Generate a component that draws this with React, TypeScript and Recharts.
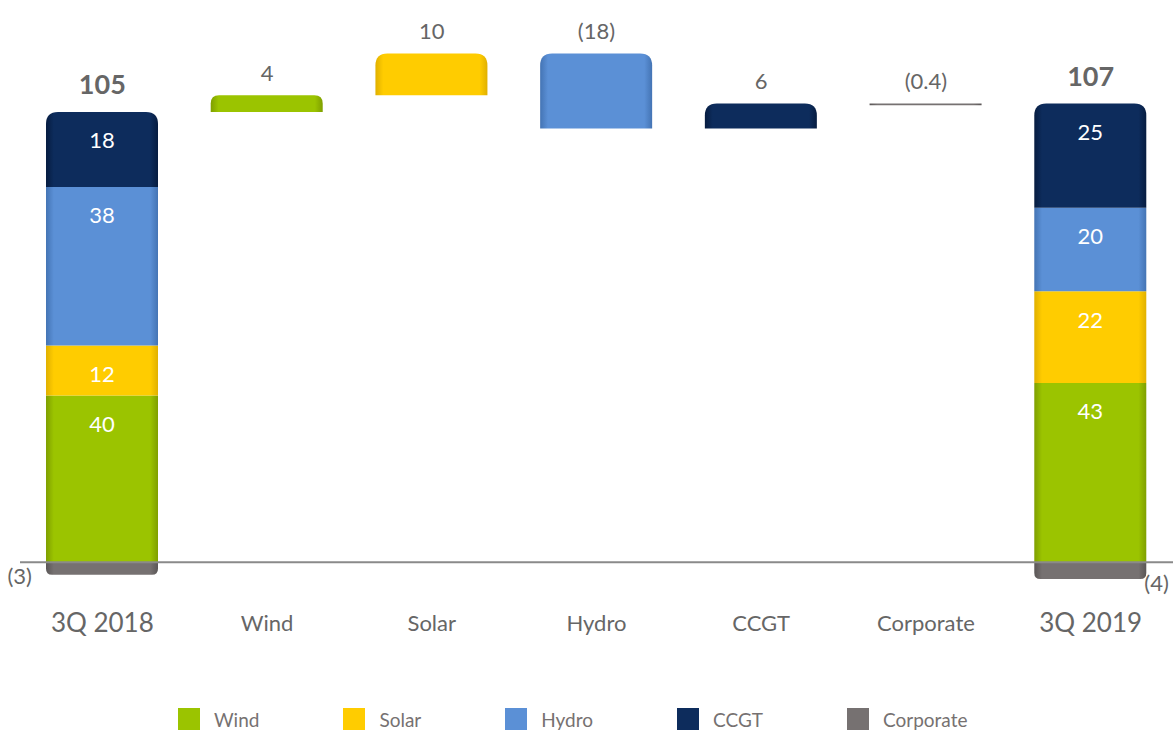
import { ComposedChart, Bar, Line, XAxis, YAxis, ReferenceLine, LabelList, Legend } from 'recharts'

const categories = ['3Q 2018', 'Wind', 'Solar', 'Hydro', 'CCGT', 'Corporate', '3Q 2019']
const seriesKeys = ['wind', 'solar', 'hydro', 'ccgt', 'corporate']
const seriesNames = ['Wind', 'Solar', 'Hydro', 'CCGT', 'Corporate']
const seriesColors = ['#9bc400', '#ffcc00', '#5b90d6', '#0d2c5c', '#767171']
const edgeColors = ['#7f9f00', '#e0b000', '#4474b4', '#061c40', '#5a5656']
const q3_2018 = [40, 12, 38, 18, -3]
const q3_2019 = [43, 22, 20, 25, -4]
const changes = [4, 10, -18, 6, -0.4]
const topLabels = ['105', '4', '10', '(18)', '6', '(0.4)', '107']
const bottomLabels = ['(3)', '(4)']

const FONT = 'Lato, "Open Sans", sans-serif'
const GREY = '#666666'

const positiveSum = (vals: number[]) => vals.filter((v) => v > 0).reduce((a, b) => a + b, 0)

let level = positiveSum(q3_2018)
const data = categories.map((name, i) => {
  const row: Record<string, any> = { name, base: 0, end: false }
  seriesKeys.forEach((k) => (row[k] = 0))
  if (i === 0 || i === categories.length - 1) {
    const vals = i === 0 ? q3_2018 : q3_2019
    seriesKeys.forEach((k, j) => (row[k] = vals[j]))
    row.top = positiveSum(vals)
    row.end = true
  } else {
    const d = changes[i - 1]
    const next = level + d
    row.base = Math.min(level, next)
    row[seriesKeys[i - 1]] = Math.abs(d)
    row.top = Math.max(level, next)
    level = next
  }
  row.label = topLabels[i]
  return row
})

function roundedPath(x: number, y: number, w: number, h: number, rt: number, rb: number) {
  return [
    `M${x},${y + rt}`,
    `Q${x},${y} ${x + rt},${y}`,
    `L${x + w - rt},${y}`,
    `Q${x + w},${y} ${x + w},${y + rt}`,
    `L${x + w},${y + h - rb}`,
    `Q${x + w},${y + h} ${x + w - rb},${y + h}`,
    `L${x + rb},${y + h}`,
    `Q${x},${y + h} ${x},${y + h - rb}`,
    'Z',
  ].join(' ')
}

const makeShape = (key: string, idx: number) => (props: any) => {
  const { x, y, width, height, payload } = props
  const h = Math.abs(height || 0)
  if (h < 0.5) return null
  const top = Math.min(y, y + height)
  let rt = 0
  let rb = 0
  if (payload.end) {
    if (key === 'ccgt') rt = 12
    if (key === 'corporate') rb = 6
  } else if (key !== 'corporate') {
    rt = Math.min(12, h / 2)
  }
  return <path d={roundedPath(x, top, width, h, rt, Math.min(rb, h / 2))} fill={`url(#grad-${idx})`} />
}

const InsideLabel = (p: any) => {
  if (p.index !== 0 && p.index !== categories.length - 1) return null
  const top = Math.min(p.y, p.y + p.height)
  return (
    <text x={p.x + p.width / 2} y={top + 28} textAnchor="middle" dominantBaseline="central" fill="#fff" fontSize={22} fontFamily={FONT}>
      {p.value}
    </text>
  )
}

const CorporateLabel = (p: any) => {
  const bottom = Math.max(p.y, p.y + p.height)
  if (p.index === 0)
    return (
      <text x={p.x - 14} y={bottom + 1} textAnchor="end" dominantBaseline="central" fill={GREY} fontSize={22} fontFamily={FONT}>
        {bottomLabels[0]}
      </text>
    )
  if (p.index === categories.length - 1)
    return (
      <text x={p.x + p.width - 2} y={bottom + 4} textAnchor="start" dominantBaseline="central" fill={GREY} fontSize={22} fontFamily={FONT}>
        {bottomLabels[1]}
      </text>
    )
  return null
}

const TopLabel = (p: any) => {
  const end = p.index === 0 || p.index === categories.length - 1
  return (
    <text
      x={p.x}
      y={p.y - (end ? 28 : 23)}
      textAnchor="middle"
      dominantBaseline="central"
      fill={GREY}
      fontSize={end ? 27 : 22}
      fontWeight={end ? 700 : 400}
      fontFamily={FONT}
    >
      {topLabels[p.index]}
    </text>
  )
}

const CategoryTick = (p: any) => {
  const end = p.index === 0 || p.index === categories.length - 1
  return (
    <text x={p.x} y={p.y + 10} textAnchor="middle" dominantBaseline="central" fill={GREY} fontSize={end ? 26 : 22} fontFamily={FONT}>
      {p.payload.value}
    </text>
  )
}

const LegendBox = () => (
  <div style={{ height: 30, display: 'flex', alignItems: 'center', paddingLeft: 178, fontFamily: FONT }}>
    {seriesNames.map((n, i) => (
      <div key={n} style={{ display: 'flex', alignItems: 'center', marginRight: 84 }}>
        <span style={{ width: 22, height: 22, background: seriesColors[i], display: 'inline-block', marginRight: 14 }} />
        <span style={{ fontSize: 19, color: '#767171' }}>{n}</span>
      </div>
    ))}
  </div>
)

export default function App() {
  return (
    <div style={{ position: 'absolute', left: 0, top: 0, background: '#fff' }}>
      <ComposedChart width={1175} height={734} data={data} stackOffset="sign" margin={{ top: 41, right: 2, left: 20, bottom: 0 }}>
        <defs>
          {seriesColors.map((c, i) => (
            <linearGradient key={i} id={`grad-${i}`} x1="0" y1="0" x2="1" y2="0">
              <stop offset="0%" stopColor={edgeColors[i]} />
              <stop offset="7%" stopColor={c} />
              <stop offset="93%" stopColor={c} />
              <stop offset="100%" stopColor={edgeColors[i]} />
            </linearGradient>
          ))}
        </defs>
        <XAxis dataKey="name" axisLine={false} tickLine={false} height={100} interval={0} tick={<CategoryTick />} />
        <YAxis hide domain={[-10, 125]} />
        <Bar dataKey="base" stackId="a" fill="transparent" barSize={112} isAnimationActive={false} />
        {seriesKeys.map((k, i) => (
          <Bar key={k} dataKey={k} name={seriesNames[i]} stackId="a" barSize={112} fill={seriesColors[i]} shape={makeShape(k, i)} isAnimationActive={false}>
            <LabelList dataKey={k} content={k === 'corporate' ? <CorporateLabel /> : <InsideLabel />} />
          </Bar>
        ))}
        <Line dataKey="top" stroke="none" dot={false} activeDot={false} legendType="none" isAnimationActive={false}>
          <LabelList dataKey="label" content={<TopLabel />} />
        </Line>
        <ReferenceLine y={0} stroke="#8a8a8a" strokeWidth={2} />
        <Legend verticalAlign="bottom" wrapperStyle={{ left: 0, width: 1175 }} content={() => <LegendBox />} />
      </ComposedChart>
    </div>
  )
}
